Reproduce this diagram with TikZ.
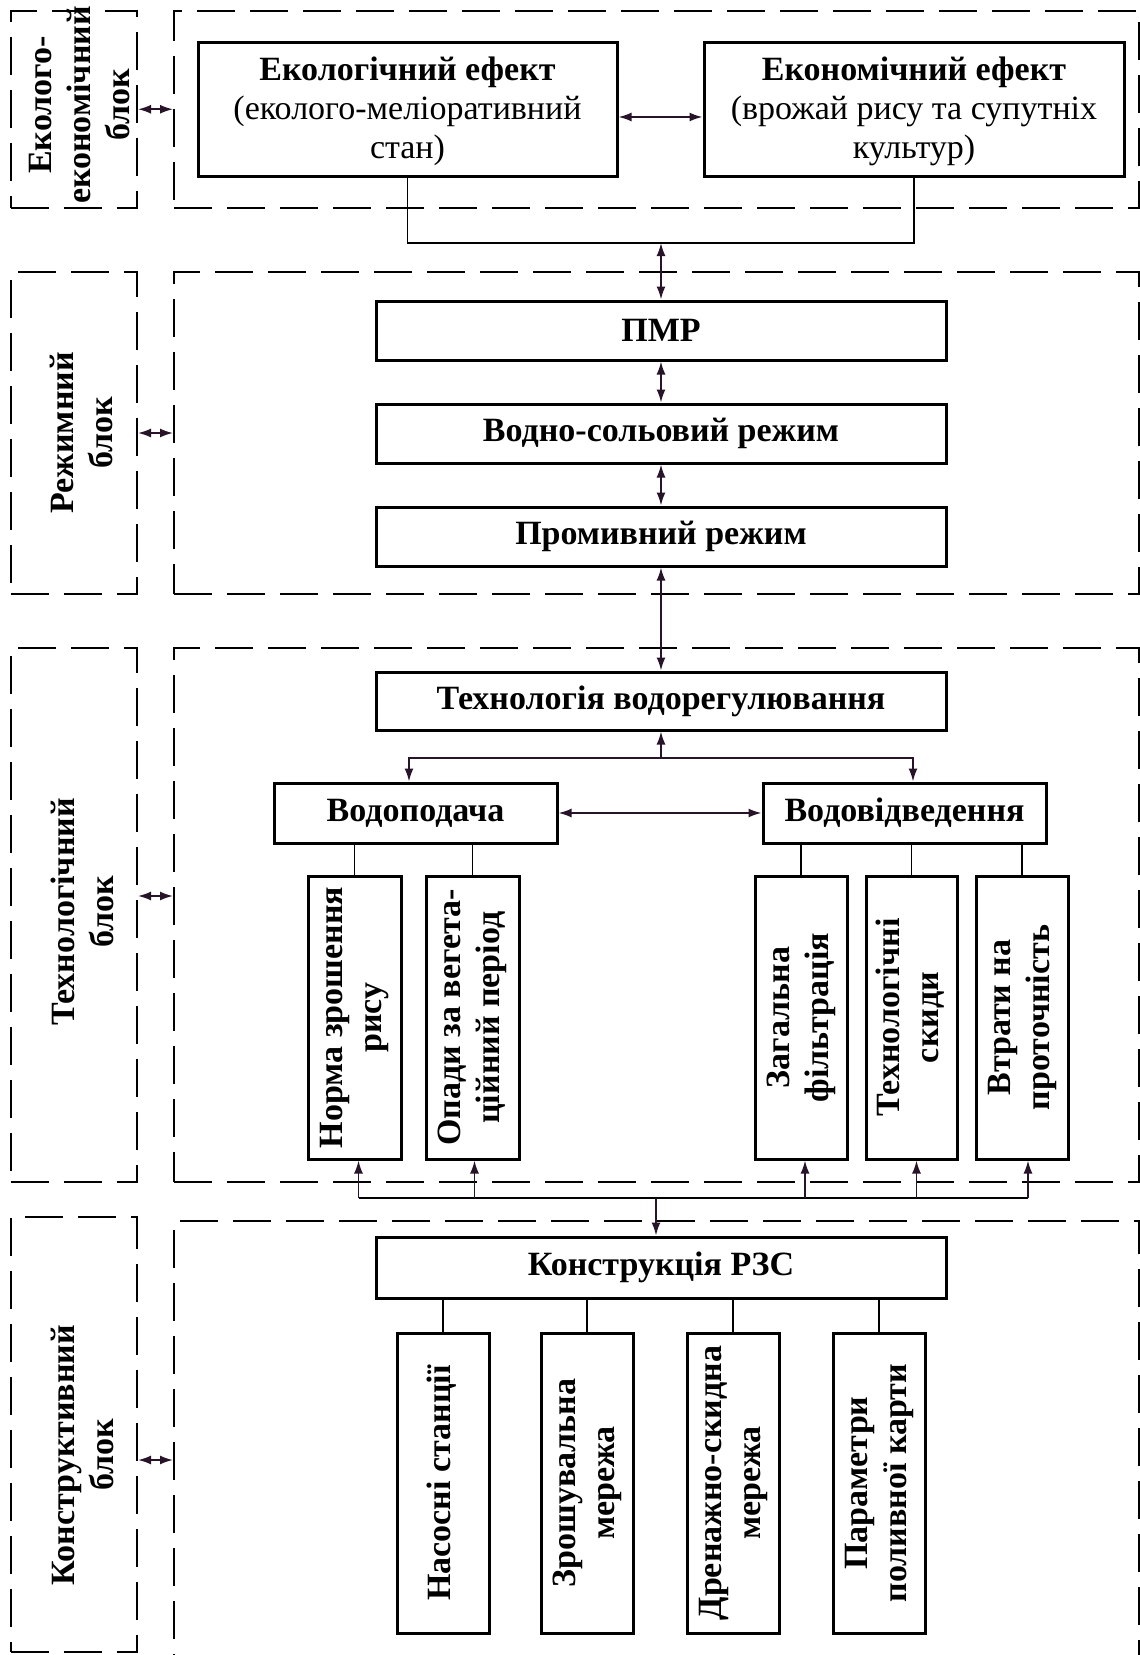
\documentclass[tikz,border=0pt]{standalone}
\usepackage{fontspec}
\setmainfont{Liberation Serif}
\usepackage{graphicx}
\usetikzlibrary{arrows.meta,fit}
\newcommand\fsz{\fontsize{34}{39}\selectfont}
\newcommand\vt[1]{\rotatebox{90}{\begin{tabular}{@{}c@{}}#1\end{tabular}}}
\definecolor{arrc}{RGB}{40,20,40}
\tikzset{
  solidbox/.style={draw, line width=3pt, inner sep=0pt, align=center, font=\fsz\bfseries},
  ecobox/.style={draw, line width=3pt, inner sep=0pt},
  ecotext/.style={inner sep=0pt, align=center, font=\fsz},
  dbox/.style={draw, line width=2pt, dash pattern=on 38pt off 15pt, inner sep=0pt},
  lbl/.style={inner sep=0pt, font=\fsz\bfseries},
  conn/.style={line width=1.8pt},
  arr/.style={line width=1.8pt, arrc, -{Latex[length=13pt,width=9pt]}},
  biarr/.style={line width=1.8pt, arrc, {Latex[length=13pt,width=9pt]}-{Latex[length=13pt,width=9pt]}},
}
\begin{document}
\begin{tikzpicture}[x=1pt,y=-1pt]
\useasboundingbox (0,0) rectangle (1140,1655);
\clip (0,0) rectangle (1140,1655);
\fill[white] (0,0) rectangle (1140,1655);
% dashed blocks
\node[dbox, fit={(10.5,10.5) (137,208)}] (L1) {};
\node[dbox, fit={(174,10.5) (1139,208)}] (B1) {};
\node[dbox, fit={(10.5,272) (137,594)}] (L2) {};
\node[dbox, fit={(174,272) (1139,594)}] (B2) {};
\node[dbox, fit={(10.5,648) (137,1182)}] (L3) {};
\node[dbox, fit={(174,648) (1139,1182)}] (B3) {};
\node[dbox, fit={(10.5,1217) (137,1652)}] (L4) {};
\node[dbox, fit={(174,1221) (1139,1720)}] (B4) {};
% block labels
\node[lbl] (lab1) at (83,105) {\vt{Еколого-\\економічний\\блок}};
\node[lbl] (lab2) at (85,433) {\vt{Режимний\\блок}};
\node[lbl] (lab3) at (86,912) {\vt{Технологічний\\блок}};
\node[lbl] (lab4) at (86,1455) {\vt{Конструктивний\\блок}};
% top block
\node[ecobox, fit={(198,42) (617,176)}] (eco) {};
\node[ecotext] (ecot) at ([yshift=-2pt]eco.center) {{\bfseries Екологічний ефект}\\(еколого-меліоративний\\стан)};
\node[ecobox, fit={(704,42) (1124,176)}] (econ) {};
\node[ecotext] (econt) at ([yshift=-2pt]econ.center) {{\bfseries Економічний ефект}\\(врожай рису та супутніх\\культур)};
% regime block
\node[solidbox, fit={(376,301) (946,360)}] (pmr) {};
\node[lbl] (pmrt) at (pmr.center) {ПМР};
\node[solidbox, fit={(376,404) (946,463)}] (vsr) {};
\node[lbl] (vsrt) at (vsr.center) {Водно-сольовий режим};
\node[solidbox, fit={(376,507) (946,566)}] (pr) {};
\node[lbl] (prt) at (pr.center) {Промивний режим};
% technology block
\node[solidbox, fit={(376,672) (946,730)}] (tv) {};
\node[lbl] (tvt) at (tv.center) {Технологія водорегулювання};
\node[solidbox, fit={(274,783) (557,843)}] (vp) {};
\node[lbl] (vpt) at (vp.center) {Водоподача};
\node[solidbox, fit={(763,783) (1046,843)}] (vv) {};
\node[lbl] (vvt) at (vv.center) {Водовідведення};
\node[solidbox, fit={(308,876) (401,1159)}] (norma) {};
\node[lbl] (normat) at (norma.center) {\vt{Норма зрошення\\рису}};
\node[solidbox, fit={(426,876) (519,1159)}] (opady) {};
\node[lbl] (opadyt) at (opady.center) {\vt{Опади за вегета-\\ційний період}};
\node[solidbox, fit={(755,876) (847,1159)}] (zag) {};
\node[lbl] (zagt) at (zag.center) {\vt{Загальна\\фільтрація}};
\node[solidbox, fit={(866,876) (957,1159)}] (tekh) {};
\node[lbl] (tekht) at (tekh.center) {\vt{Технологічні\\скиди}};
\node[solidbox, fit={(976,876) (1068,1159)}] (vtr) {};
\node[lbl] (vtrt) at (vtr.center) {\vt{Втрати на\\проточність}};
% construction block
\node[solidbox, fit={(376,1237) (946,1298)}] (kr) {};
\node[lbl] (krt) at (kr.center) {Конструкція РЗС};
\node[solidbox, fit={(397,1333) (489,1633)}] (nas) {};
\node[lbl] (nast) at (nas.center) {\vt{Насосні станції}};
\node[solidbox, fit={(541,1333) (633,1633)}] (zr) {};
\node[lbl] (zrt) at (zr.center) {\vt{Зрошувальна\\мережа}};
\node[solidbox, fit={(687,1333) (779,1633)}] (dr) {};
\node[lbl] (drt) at (dr.center) {\vt{Дренажно-скидна\\мережа}};
\node[solidbox, fit={(833,1333) (925,1633)}] (par) {};
\node[lbl] (part) at (par.center) {\vt{Параметри\\поливної карти}};
% coordinates
\coordinate (bus1) at (661,243);
\coordinate (bus2) at (661,758);
\coordinate (bus3) at (656,1198);
\coordinate (la3) at (0,896);
\coordinate (la4) at (0,1460);
\coordinate (n1) at ([xshift=4pt]norma.south);
\coordinate (n2) at ([xshift=2pt]opady.south);
\coordinate (n3) at ([xshift=4pt]zag.south);
\coordinate (n4) at ([xshift=5pt]tekh.south);
\coordinate (n5) at ([xshift=6pt]vtr.south);
% left arrows
\draw[biarr] (L1.east) -- (B1.west);
\draw[biarr] (L2.east) -- (B2.west);
\draw[biarr] (L3.east |- la3) -- (B3.west |- la3);
\draw[biarr] (L4.east |- la4) -- (B4.west |- la4);
% top connectors
\draw[biarr] ([yshift=-8pt]eco.east) -- ([yshift=-8pt]econ.west);
\draw[conn] (eco.south) -- (eco.south |- bus1) -- (econ.south |- bus1) -- (econ.south);
\draw[biarr] (bus1) -- (pmr.north);
\draw[biarr] (pmr.south) -- (vsr.north);
\draw[biarr] (vsr.south) -- (pr.north);
\draw[biarr] (pr.south) -- (tv.north);
% technology connectors
\draw[arr] (bus2) -- (tv.south);
\draw[arr] (bus2) -| ([xshift=-6.5pt]vp.north);
\draw[arr] (bus2) -| ([xshift=8.5pt]vv.north);
\draw[biarr] (vp.east) -- (vv.west);
\draw[conn] (norma.north |- vp.south) -- (norma.north);
\draw[conn] (opady.north |- vp.south) -- (opady.north);
\draw[conn] (zag.north |- vv.south) -- (zag.north);
\draw[conn] (tekh.north |- vv.south) -- (tekh.north);
\draw[conn] (vtr.north |- vv.south) -- (vtr.north);
% bottom bus
\draw[conn] (n1 |- bus3) -- (n5 |- bus3);
\draw[arr] (n1 |- bus3) -- (n1);
\draw[arr] (n2 |- bus3) -- (n2);
\draw[arr] (n3 |- bus3) -- (n3);
\draw[arr] (n4 |- bus3) -- (n4);
\draw[arr] (n5 |- bus3) -- (n5);
\draw[arr] (bus3) -- (bus3 |- kr.north);
% construction connectors
\draw[conn] (nas.north |- kr.south) -- (nas.north);
\draw[conn] (zr.north |- kr.south) -- (zr.north);
\draw[conn] (dr.north |- kr.south) -- (dr.north);
\draw[conn] (par.north |- kr.south) -- (par.north);
\end{tikzpicture}
\end{document}
